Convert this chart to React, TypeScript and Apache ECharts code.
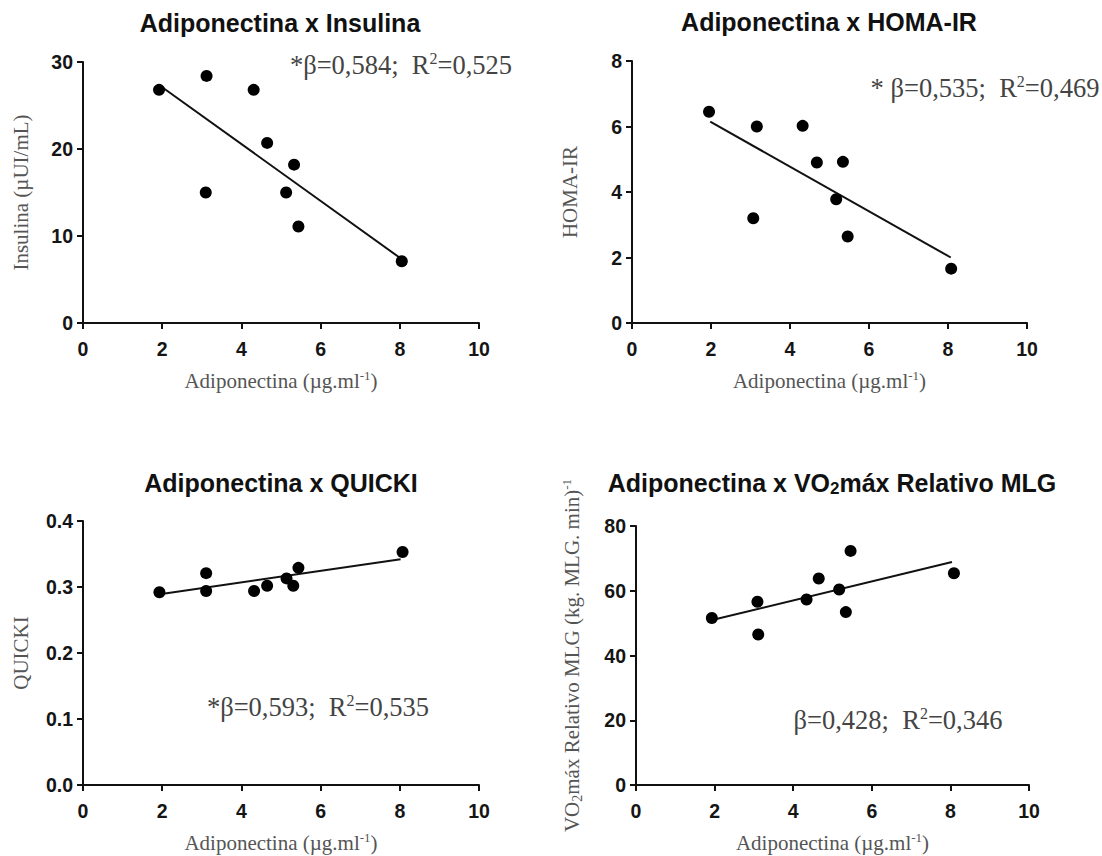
import React, { useEffect, useRef } from "react";
import * as echarts from "echarts";

// ---- Data ----
const X_TICKS_MAX = 10;

// Panel 1: Adiponectina x Insulina
const ADIPO_1 = [1.92, 3.12, 4.31, 4.65, 5.33, 3.1, 5.13, 5.44, 8.05];
const INSULINA = [26.8, 28.4, 26.8, 20.7, 18.2, 15.0, 15.0, 11.1, 7.1];
const FIT_1_X = [2.0, 8.0];
const FIT_1_Y = [27.1, 7.5];

// Panel 2: Adiponectina x HOMA-IR
const ADIPO_2 = [1.95, 3.16, 4.32, 4.68, 5.34, 5.17, 3.07, 5.46, 8.08];
const HOMA_IR = [6.45, 6.0, 6.02, 4.9, 4.92, 3.78, 3.2, 2.64, 1.66];
const FIT_2_X = [1.98, 8.07];
const FIT_2_Y = [6.15, 2.0];

// Panel 3: Adiponectina x QUICKI
const ADIPO_3 = [1.93, 3.11, 3.11, 4.32, 4.65, 5.14, 5.31, 5.44, 8.07];
const QUICKI = [0.292, 0.321, 0.294, 0.294, 0.302, 0.313, 0.302, 0.329, 0.353];
const FIT_3_X = [1.94, 8.02];
const FIT_3_Y = [0.289, 0.342];

// Panel 4: Adiponectina x VO2max relativo MLG
const ADIPO_4 = [1.93, 3.09, 3.11, 4.34, 4.65, 5.17, 5.34, 5.46, 8.09];
const VO2MAX = [51.6, 56.6, 46.5, 57.3, 63.8, 60.4, 53.4, 72.3, 65.4];
const FIT_4_X = [1.99, 8.04];
const FIT_4_Y = [51.1, 68.9];

const TITLES = [
  "Adiponectina x Insulina",
  "Adiponectina x HOMA-IR",
  "Adiponectina x QUICKI",
  "Adiponectina x VO{sub|2}máx Relativo MLG",
];
const Y_NAMES = [
  "Insulina (µUI/mL)",
  "HOMA-IR",
  "QUICKI",
  "VO{sub|2}máx Relativo MLG (kg. MLG. min){sup|-1}",
];
const X_NAME = "Adiponectina (µg.ml{sup|-1})";
const STATS = [
  "*β=0,584;  R{sup|2}=0,525",
  "* β=0,535;  R{sup|2}=0,469",
  "*β=0,593;  R{sup|2}=0,535",
  "β=0,428;  R{sup|2}=0,346",
];
const Y_MAX = [30, 8, 0.4, 80];
const Y_INTERVAL = [10, 2, 0.1, 20];

const zip = (xs: number[], ys: number[]) => xs.map((x, i) => [x, ys[i]]);

const PANELS = [
  { xs: ADIPO_1, ys: INSULINA, fx: FIT_1_X, fy: FIT_1_Y },
  { xs: ADIPO_2, ys: HOMA_IR, fx: FIT_2_X, fy: FIT_2_Y },
  { xs: ADIPO_3, ys: QUICKI, fx: FIT_3_X, fy: FIT_3_Y },
  { xs: ADIPO_4, ys: VO2MAX, fx: FIT_4_X, fy: FIT_4_Y },
];

// layout
const GRIDS = [
  { left: 83, top: 62, width: 396, height: 261 },
  { left: 632, top: 61, width: 395, height: 262 },
  { left: 83, top: 521, width: 396, height: 264 },
  { left: 636, top: 526, width: 393, height: 260 },
];
const TITLE_POS = [
  [280, 23],
  [829, 22],
  [281, 483],
  [832, 483],
];
const STAT_POS = [
  [401, 65],
  [985, 88],
  [318, 707],
  [898, 720],
];

const SANS = "'Liberation Sans', Arial, Helvetica, sans-serif";
const SERIF = "'Liberation Serif', 'Times New Roman', serif";

export default function App() {
  const ref = useRef<HTMLDivElement>(null);

  useEffect(() => {
    if (!ref.current) return;
    const chart = echarts.init(ref.current, undefined, { renderer: "svg" });

    const axisCommon = {
      axisLine: { show: true, onZero: false, lineStyle: { color: "#111", width: 2 } },
      axisTick: { show: true, length: 6, lineStyle: { color: "#111", width: 2 } },
      splitLine: { show: false },
      axisLabel: {
        fontFamily: SANS,
        fontWeight: "bold" as const,
        fontSize: 19.5,
        color: "#151515",
      },
    };
    const nameStyle = {
      fontFamily: SERIF,
      fontSize: 21,
      color: "#555",
      lineHeight: 24,
      rich: {
        sup: { fontFamily: SERIF, fontSize: 13, color: "#555", verticalAlign: "top", lineHeight: 13 },
        sub: { fontFamily: SERIF, fontSize: 14, color: "#555", verticalAlign: "bottom", lineHeight: 15 },
      },
    };

    const xAxis = GRIDS.map((_, i) => ({
      ...axisCommon,
      type: "value",
      gridIndex: i,
      min: 0,
      max: X_TICKS_MAX,
      interval: 2,
      name: X_NAME,
      nameLocation: "middle",
      nameGap: 46,
      nameTextStyle: nameStyle,
      axisLabel: { ...axisCommon.axisLabel, margin: 16 },
    }));
    const yAxis = GRIDS.map((_, i) => ({
      ...axisCommon,
      type: "value",
      gridIndex: i,
      min: 0,
      max: Y_MAX[i],
      interval: Y_INTERVAL[i],
      name: Y_NAMES[i],
      nameLocation: "middle",
      nameGap: i === 3 ? 52 : 50,
      nameTextStyle: nameStyle,
      axisLabel: {
        ...axisCommon.axisLabel,
        margin: 10,
        formatter: (v: number) => (i === 2 ? v.toFixed(1) : String(v)),
      },
    }));

    const series: any[] = [];
    PANELS.forEach((p, i) => {
      series.push({
        type: "line",
        xAxisIndex: i,
        yAxisIndex: i,
        data: zip(p.fx, p.fy),
        symbol: "none",
        lineStyle: { color: "#111", width: 2 },
        z: 2,
      });
      series.push({
        type: "scatter",
        xAxisIndex: i,
        yAxisIndex: i,
        data: zip(p.xs, p.ys),
        symbol: "circle",
        symbolSize: 12,
        itemStyle: { color: "#000", opacity: 1 },
        z: 3,
      });
    });

    const titleRich = {
      sub: { fontFamily: SANS, fontWeight: "bold", fontSize: 17, fill: "#111", verticalAlign: "bottom", lineHeight: 22 },
    };

    const graphic: any[] = [];
    TITLES.forEach((t, i) => {
      graphic.push({
        type: "text",
        x: TITLE_POS[i][0],
        y: TITLE_POS[i][1],
        style: {
          text: t,
          font: `bold 25px ${SANS}`,
          fill: "#111",
          align: "center",
          verticalAlign: "middle",
          lineHeight: 28,
          rich: titleRich,
        },
      });
    });
    STATS.forEach((t, i) => {
      graphic.push({
        type: "text",
        x: STAT_POS[i][0],
        y: STAT_POS[i][1],
        style: {
          text: t,
          font: `26.5px ${SERIF}`,
          fill: "#444",
          align: "center",
          verticalAlign: "middle",
          lineHeight: 30,
          rich: {
            sup: { fontFamily: SERIF, fontSize: 16, fill: "#444", verticalAlign: "top", lineHeight: 16 },
          },
        },
      });
    });

    chart.setOption({
      animation: false,
      backgroundColor: "#fff",
      grid: GRIDS.map((g) => ({ ...g, containLabel: false })),
      xAxis,
      yAxis,
      series,
      graphic,
    });

    return () => chart.dispose();
  }, []);

  return (
    <div
      ref={ref}
      style={{ position: "absolute", left: 0, top: 0, width: 1102, height: 856 }}
    />
  );
}
